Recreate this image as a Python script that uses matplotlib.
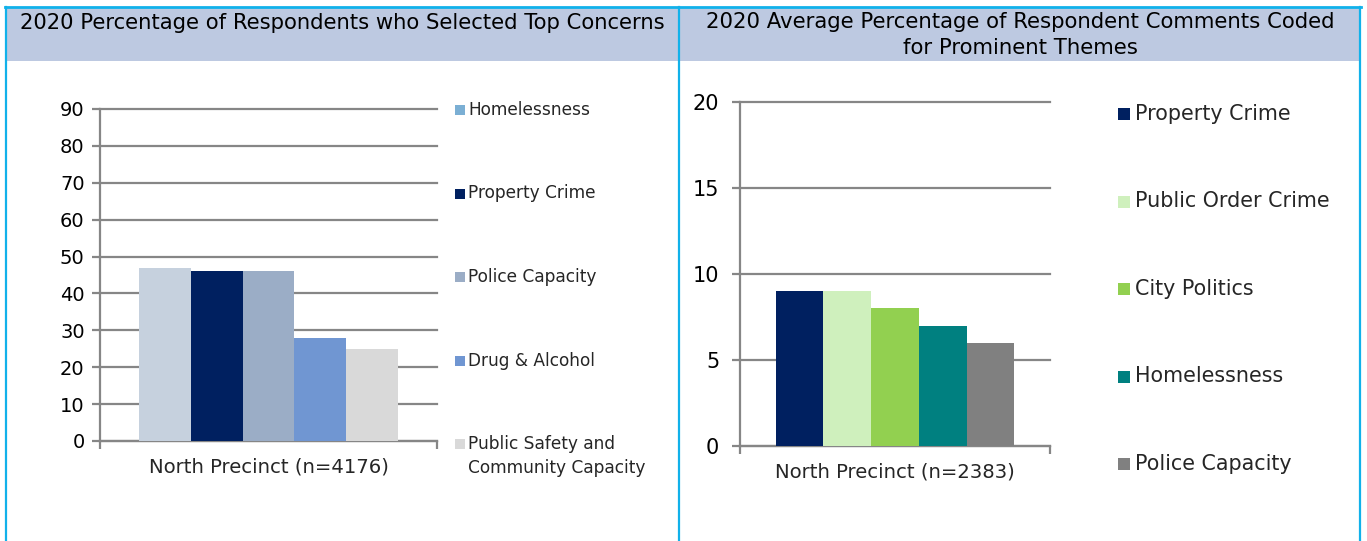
import matplotlib
matplotlib.use("Agg")
import matplotlib.pyplot as plt
from matplotlib.patches import Rectangle
from matplotlib.lines import Line2D

# ---------------- data ----------------
left_title = "2020 Percentage of Respondents who Selected Top Concerns"
left_category = "North Precinct (n=4176)"
left_series = ["Homelessness", "Property Crime", "Police Capacity", "Drug & Alcohol",
               "Public Safety and\nCommunity Capacity"]
left_values = [47, 46, 46, 28, 25]
left_bar_colors = ["#c6d1de", "#002060", "#9badc6", "#7096d2", "#d9d9d9"]
left_legend_colors = ["#7bafd4", "#002060", "#9badc6", "#7096d2", "#d9d9d9"]
left_yticks = [0, 10, 20, 30, 40, 50, 60, 70, 80, 90]

right_title = "2020 Average Percentage of Respondent Comments Coded\nfor Prominent Themes"
right_category = "North Precinct (n=2383)"
right_series = ["Property Crime", "Public Order Crime", "City Politics", "Homelessness",
                "Police Capacity"]
right_values = [9, 9, 8, 7, 6]
right_colors = ["#002060", "#cff0bd", "#92d050", "#008080", "#808080"]
right_yticks = [0, 5, 10, 15, 20]

# ---------------- layout ----------------
W, H = 1367, 541
plt.rcParams['font.family'] = ['DejaVu Sans']
fig = plt.figure(figsize=(W / 100, H / 100), dpi=100)
fig.patch.set_facecolor("white")


def fx(px):
    return px / W


def fy(py):
    return 1 - py / H


renderer = fig.canvas.get_renderer()


def fit(t, target_px):
    for _ in range(3):
        w = t.get_window_extent(renderer=renderer).width
        if w > 0:
            t.set_fontsize(t.get_fontsize() * target_px / w)


border = "#11b1ea"
header = "#bdc9e1"
grid_c = "#868686"
txt_c = "#262626"

# header bands
fig.add_artist(Rectangle((fx(7), fy(61)), fx(678) - fx(7), fy(8) - fy(61),
                         transform=fig.transFigure, facecolor=header, edgecolor="none"))
fig.add_artist(Rectangle((fx(680), fy(61)), fx(1359) - fx(680), fy(8) - fy(61),
                         transform=fig.transFigure, facecolor=header, edgecolor="none"))

# borders
for (x0, y0, x1, y1, lw) in [(5, 7, 1361, 7, 2.0), (6, 7, 6, 541, 1.6),
                             (679, 7, 679, 541, 1.6), (1360, 7, 1360, 541, 1.6)]:
    fig.add_artist(Line2D([fx(x0), fx(x1)], [fy(y0), fy(y1)], transform=fig.transFigure,
                          color=border, lw=lw))

# titles
t1 = fig.text(fx(342.5), fy(23), left_title, ha="center", va="center", fontsize=14, color="#000000")
fit(t1, 641)
lines = right_title.split("\n")
t2a = fig.text(fx(1020), fy(22), lines[0], ha="center", va="center", fontsize=14, color="#000000")
fit(t2a, 630)
t2b = fig.text(fx(1020), fy(48), lines[1], ha="center", va="center",
               fontsize=t2a.get_fontsize(), color="#000000")


def make_panel(rect, values, colors, yticks, category, cat_px):
    ax = fig.add_axes(rect)
    n = len(values)
    w = 0.77 / n
    xs = [(i - (n - 1) / 2) * w for i in range(n)]
    ax.bar(xs, values, width=w, color=colors, edgecolor="none", zorder=3)
    ax.set_xlim(-0.5, 0.5)
    ax.set_ylim(yticks[0], yticks[-1])
    ax.set_yticks(yticks)
    ax.yaxis.grid(True, color=grid_c, lw=1.6, zorder=0)
    for gl in ax.get_ygridlines():
        gl.set_clip_on(False)
    ax.set_axisbelow(True)
    for s in ["top", "right"]:
        ax.spines[s].set_visible(False)
    for s in ["left", "bottom"]:
        ax.spines[s].set_color(grid_c)
        ax.spines[s].set_linewidth(1.6)
    ax.tick_params(axis="y", direction="out", length=6, width=1.6, color=grid_c,
                   labelsize=14, labelcolor="#000000", pad=5)
    ax.set_xticks([0])
    ax.set_xticklabels([category])
    ax.tick_params(axis="x", which="major", length=0, labelsize=14, labelcolor=txt_c, pad=12)
    ax.set_xticks([-0.5, 0.5], minor=True)
    ax.tick_params(axis="x", which="minor", direction="out", length=6, width=1.6, color=grid_c)
    lab = ax.get_xticklabels()[0]
    fit(lab, cat_px)
    return ax


ax1 = make_panel([fx(100), fy(441), fx(437) - fx(100), fy(109) - fy(441)],
                 left_values, left_bar_colors, left_yticks, left_category, 240)
ax2 = make_panel([fx(740), fy(446), fx(1050) - fx(740), fy(102) - fy(446)],
                 right_values, right_colors, right_yticks, right_category, 240)
ax2.tick_params(axis="y", labelsize=15, pad=9)


def legend(labels, colors, sq_x, sq_size, text_x, y0, step, fsize, ref_label, ref_px):
    ts = []
    for i, (lab, col) in enumerate(zip(labels, colors)):
        yc = y0 + i * step
        fig.add_artist(Rectangle((fx(sq_x), fy(yc + sq_size / 2)), sq_size / W, sq_size / H,
                                 transform=fig.transFigure, facecolor=col, edgecolor="none"))
        nl = lab.count("\n")
        t = fig.text(fx(text_x), fy(yc), lab, ha="left", va="top" if nl else "center",
                     fontsize=fsize, color=txt_c, linespacing=1.4)
        ts.append(t)
    ref = fig.text(0, 0, ref_label, fontsize=fsize)
    fit(ref, ref_px)
    fs = ref.get_fontsize()
    ref.remove()
    for t, lab, i in zip(ts, labels, range(len(labels))):
        t.set_fontsize(fs)
        if lab.count("\n"):
            yc = y0 + i * step
            t.set_y(fy(yc - fs * 100 / 72 * 0.5))
    return fs


legend(left_series, left_legend_colors, 455, 10, 468, 110, 83.5, 13, "Homelessness", 123)
legend(right_series, right_colors, 1118, 12, 1135, 114, 87.5, 15, "Public Order Crime", 195)

fig.savefig("out.png", dpi=100, facecolor="white")
